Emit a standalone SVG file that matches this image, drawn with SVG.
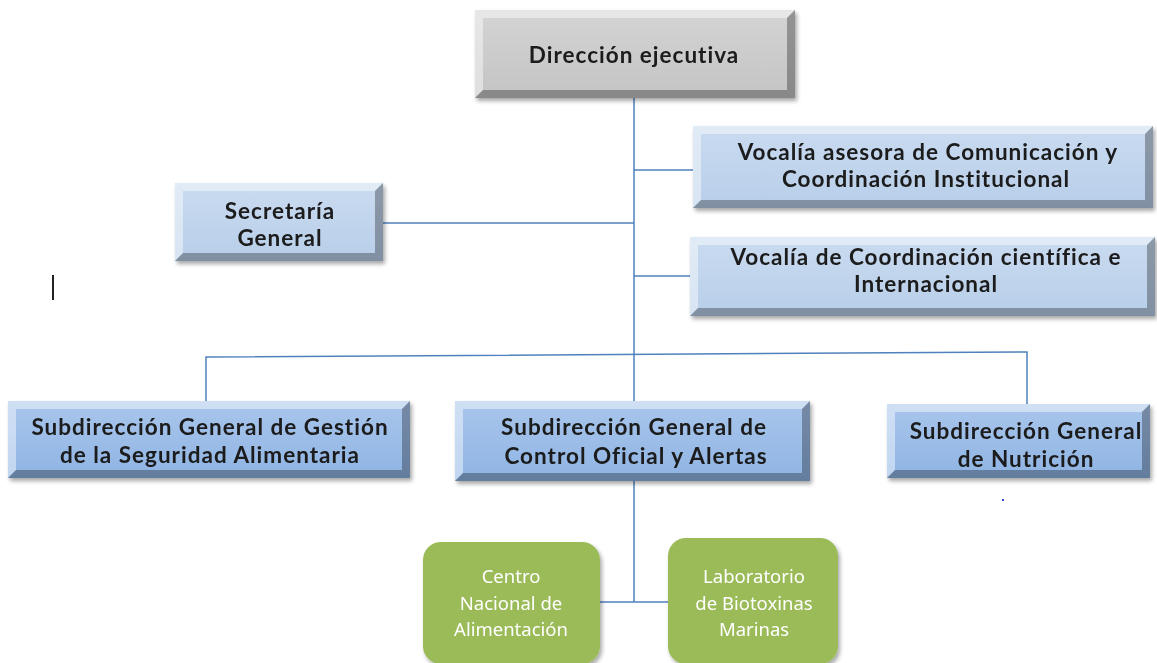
<svg xmlns="http://www.w3.org/2000/svg" width="1157" height="663" viewBox="0 0 1157 663">
<defs>
<linearGradient id="gBlue" x1="0" y1="0" x2="0" y2="1">
<stop offset="0" stop-color="#c9dbf0"/><stop offset="1" stop-color="#b8cee9"/>
</linearGradient>
<linearGradient id="gBlue2" x1="0" y1="0" x2="0" y2="1">
<stop offset="0" stop-color="#a9c6ec"/><stop offset="1" stop-color="#8fb4e3"/>
</linearGradient>
<linearGradient id="gGray" x1="0" y1="0" x2="0" y2="1">
<stop offset="0" stop-color="#d4d4d4"/><stop offset="1" stop-color="#c4c4c4"/>
</linearGradient>
<filter id="sh" x="-5%" y="-10%" width="115%" height="130%">
<feGaussianBlur in="SourceAlpha" stdDeviation="2"/>
<feOffset dx="2" dy="3"/>
<feComponentTransfer><feFuncA type="linear" slope="0.35"/></feComponentTransfer>
<feMerge><feMergeNode/><feMergeNode in="SourceGraphic"/></feMerge>
</filter>
</defs>
<style>
.t{font-family:Lato,"Liberation Sans",sans-serif;font-weight:bold;font-size:22.5px;letter-spacing:1px;fill:#1a1a1a;text-anchor:middle}
.g{font-family:"Noto Sans","Liberation Sans",sans-serif;font-size:18.5px;fill:#ffffff;text-anchor:middle}
.hl{fill:#ffffff;opacity:0.45}
.dk{fill:#000000;opacity:0.3}
.edge{fill:none;stroke:#4f81bd;stroke-width:1.5}
</style>

<g id="connectors">
<path class="edge" d="M634 98 V602"/>
<path class="edge" d="M634 170 H693"/>
<path class="edge" d="M383 223 H634"/>
<path class="edge" d="M634 276 H690"/>
<path class="edge" d="M206 401 V357 L1027 352 V404"/>
<path class="edge" d="M600 602 H668"/>
</g>

<g id="n-direccion" filter="url(#sh)">
<rect x="475" y="10" width="320" height="88" fill="url(#gGray)"/>
<polygon class="hl" points="475,10 795,10 787,18 483,18"/>
<polygon class="hl" points="475,10 483,18 483,90 475,98"/>
<polygon class="dk" points="795,10 795,98 787,90 787,18"/>
<polygon class="dk" points="475,98 795,98 787,90 483,90"/>
<text class="t" x="634" y="63">Dirección ejecutiva</text>
</g>

<g id="n-vocalia1" filter="url(#sh)">
<rect x="693" y="126" width="460" height="82" fill="url(#gBlue)"/>
<polygon class="hl" points="693,126 1153,126 1145,134 701,134"/>
<polygon class="hl" points="693,126 701,134 701,200 693,208"/>
<polygon class="dk" points="1153,126 1153,208 1145,200 1145,134"/>
<polygon class="dk" points="693,208 1153,208 1145,200 701,200"/>
<text class="t" x="928" y="160">Vocalía asesora de Comunicación y</text>
<text class="t" x="926" y="187">Coordinación Institucional</text>
</g>

<g id="n-secretaria" filter="url(#sh)">
<rect x="175" y="183" width="208" height="78" fill="url(#gBlue)"/>
<polygon class="hl" points="175,183 383,183 375,191 183,191"/>
<polygon class="hl" points="175,183 183,191 183,253 175,261"/>
<polygon class="dk" points="383,183 383,261 375,253 375,191"/>
<polygon class="dk" points="175,261 383,261 375,253 183,253"/>
<text class="t" x="280" y="219">Secretaría</text>
<text class="t" x="280" y="246">General</text>
</g>

<g id="n-vocalia2" filter="url(#sh)">
<rect x="690" y="237" width="465" height="79" fill="url(#gBlue)"/>
<polygon class="hl" points="690,237 1155,237 1147,245 698,245"/>
<polygon class="hl" points="690,237 698,245 698,308 690,316"/>
<polygon class="dk" points="1155,237 1155,316 1147,308 1147,245"/>
<polygon class="dk" points="690,316 1155,316 1147,308 698,308"/>
<text class="t" x="926" y="265">Vocalía de Coordinación científica e</text>
<text class="t" x="926" y="292">Internacional</text>
</g>

<g id="n-sub-gestion" filter="url(#sh)">
<rect x="8" y="401" width="402" height="77" fill="url(#gBlue2)"/>
<polygon class="hl" points="8,401 410,401 402,409 16,409"/>
<polygon class="hl" points="8,401 16,409 16,470 8,478"/>
<polygon class="dk" points="410,401 410,478 402,470 402,409"/>
<polygon class="dk" points="8,478 410,478 402,470 16,470"/>
<text class="t" x="210" y="435">Subdirección General de Gestión</text>
<text class="t" x="210" y="463">de la Seguridad Alimentaria</text>
</g>

<g id="n-sub-control" filter="url(#sh)">
<rect x="455" y="401" width="355" height="80" fill="url(#gBlue2)"/>
<polygon class="hl" points="455,401 810,401 802,409 463,409"/>
<polygon class="hl" points="455,401 463,409 463,473 455,481"/>
<polygon class="dk" points="810,401 810,481 802,473 802,409"/>
<polygon class="dk" points="455,481 810,481 802,473 463,473"/>
<text class="t" x="634" y="435">Subdirección General de</text>
<text class="t" x="636" y="464">Control Oficial y Alertas</text>
</g>

<g id="n-sub-nutricion" filter="url(#sh)">
<rect x="887" y="404" width="263" height="74" fill="url(#gBlue2)"/>
<polygon class="hl" points="887,404 1150,404 1142,412 895,412"/>
<polygon class="hl" points="887,404 895,412 895,470 887,478"/>
<polygon class="dk" points="1150,404 1150,478 1142,470 1142,412"/>
<polygon class="dk" points="887,478 1150,478 1142,470 895,470"/>
<text class="t" x="1026" y="439">Subdirección General</text>
<text class="t" x="1026" y="467">de Nutrición</text>
</g>

<g id="n-centro" filter="url(#sh)">
<rect x="423" y="542" width="177" height="122" rx="18" fill="#9bbb59"/>
<text class="g" x="511" y="583">Centro</text>
<text class="g" x="511" y="610">Nacional de</text>
<text class="g" x="511" y="636">Alimentación</text>
</g>

<g id="n-laboratorio" filter="url(#sh)">
<rect x="668" y="538" width="170" height="126" rx="18" fill="#9bbb59"/>
<text class="g" x="754" y="583">Laboratorio</text>
<text class="g" x="754" y="610">de Biotoxinas</text>
<text class="g" x="754" y="636">Marinas</text>
</g>

<rect x="52" y="275" width="2" height="25" fill="#222222"/>
<rect x="1002" y="499" width="2" height="2" fill="#3344cc"/>
</svg>
